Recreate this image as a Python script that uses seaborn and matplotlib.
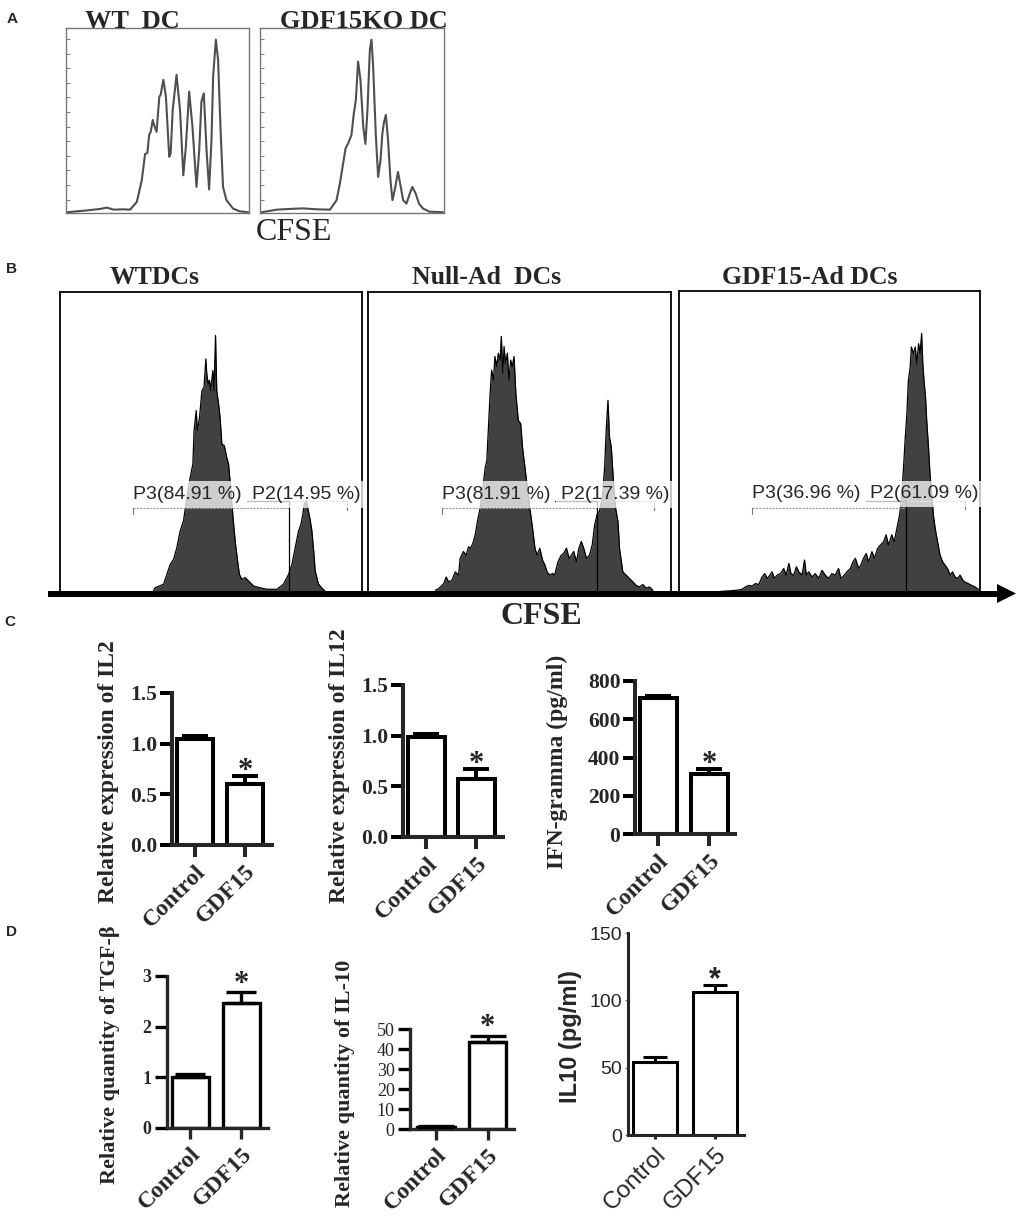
import matplotlib
matplotlib.use("Agg")
import matplotlib.pyplot as plt
import numpy as np
import pandas as pd
import seaborn as sns

W, H = 1020, 1217
SERIF = "Liberation Serif"
SANS = "Liberation Sans"

# ---------------- panel A: CFSE dilution (arbitrary units, 0-100 of frame)
wt_a_x = [0.5, 11.4, 18.7, 22.3, 26.0, 31.4, 35.0, 38.7, 41.4, 43.2, 44.5, 45.4, 46.3, 47.4, 48.1,
          49.5, 51.0, 51.7, 53.2, 54.6, 56.4, 57.2, 58.3, 60.4, 62.3, 64.1, 65.5, 67.3, 69.1, 71.3,
          72.8, 74.0, 75.3, 76.8, 78.2, 79.5, 80.4, 81.9, 83.1, 84.4, 85.8, 87.7, 91.3, 94.9, 99.5]
wt_a_y = [0.4, 1.4, 2.2, 2.9, 1.8, 2.0, 1.8, 6.0, 17.7, 31.8, 32.5, 42.1, 43.9, 50.3, 47.6,
          43.9, 62.9, 63.8, 72.0, 62.9, 30.4, 32.2, 55.7, 74.7, 55.7, 20.4, 35.8, 65.6, 46.7, 14.1,
          34.0, 60.2, 64.7, 34.0, 12.7, 39.4, 73.8, 93.7, 82.8, 46.7, 14.1, 6.9, 2.4, 0.9, 0.4]
ko_a_x = [0.9, 9.0, 16.3, 23.5, 30.7, 38.0, 41.6, 43.4, 45.2, 46.5, 47.9, 49.7, 51.0, 52.1, 53.3,
          54.6, 56.1, 57.3, 58.4, 59.7, 60.6, 61.5, 62.9, 64.2, 65.5, 66.5, 67.3, 68.4, 69.6, 70.9,
          72.0, 73.2, 75.0, 76.5, 77.8, 79.6, 81.4, 82.8, 84.6, 86.4, 88.6, 92.2, 99.5]
ko_a_y = [0.4, 1.8, 2.2, 2.5, 2.0, 1.8, 6.9, 15.9, 26.8, 34.9, 37.6, 42.1, 53.9, 61.1, 81.9,
          72.0, 46.7, 37.3, 55.7, 88.2, 93.7, 79.2, 43.0, 19.5, 28.6, 43.0, 48.5, 53.0, 39.4, 17.7,
          6.9, 12.3, 22.2, 14.1, 6.9, 5.1, 10.5, 14.1, 10.5, 5.1, 2.4, 0.7, 0.4]
a_titles = ["WT  DC", "GDF15KO DC"]

# ---------------- panel B: gated CFSE histograms
wt_b_x = [30.9, 31.5, 34.3, 35.4, 36.5, 37.6, 38.7, 39.8, 40.9, 42.0, 43.1, 44.0, 44.4, 45.1, 45.5,
          46.2, 47.0, 47.7, 48.3, 48.6, 49.1, 49.5, 49.9, 50.6, 51.0, 51.5, 51.9, 52.5, 53.0, 53.6,
          54.4, 55.2, 55.8, 56.4, 57.2, 58.0, 58.8, 59.4, 60.2, 61.3, 62.4, 64.1, 66.3, 68.5, 71.8,
          74.0, 75.7, 76.8, 77.9, 79.0, 79.8, 80.4, 80.9, 81.5, 82.0, 82.7, 83.4, 84.0, 84.5, 85.6,
          87.1, 87.8]
wt_b_y = [0.3, 1.4, 2.6, 5.9, 9.2, 10.9, 14.8, 20.4, 23.7, 31.5, 38.2, 42.7, 53.8, 60.5, 53.8,
          58.2, 67.1, 68.3, 77.7, 72.7, 69.4, 70.5, 67.1, 73.8, 67.1, 85.5, 67.1, 62.7, 58.2, 49.3,
          48.8, 44.9, 42.7, 36.0, 25.9, 17.0, 10.4, 5.9, 4.2, 4.8, 3.7, 2.0, 1.4, 0.9, 0.9,
          2.6, 5.9, 9.2, 14.8, 20.4, 22.6, 25.9, 29.3, 30.4, 28.2, 24.8, 20.4, 13.7, 7.0, 2.6,
          0.9, 0.3]
null_b_x = [22.2, 23.3, 25.0, 25.8, 26.6, 27.7, 28.8, 29.9, 30.4, 31.5, 32.4, 33.2, 33.9, 34.8, 35.4,
            36.1, 37.0, 37.9, 38.7, 39.2, 39.7, 40.3, 40.8, 41.4, 41.9, 42.5, 43.0, 43.6, 44.0, 44.5,
            44.9, 45.4, 46.0, 46.5, 47.1, 47.6, 48.2, 48.8, 49.6, 50.4, 51.0, 51.8, 52.6, 53.4, 54.3,
            55.1, 55.8, 56.7, 57.6, 58.4, 59.1, 60.0, 60.9, 61.6, 62.7, 63.8, 64.6, 65.5, 66.4, 67.1,
            67.9, 68.8, 69.6, 70.4, 71.2, 72.1, 73.1, 74.0, 74.8, 75.6, 76.4, 77.3, 78.1, 78.6, 79.2,
            79.7, 80.3, 81.0, 81.7, 82.5, 83.0, 84.1, 85.2, 86.3, 87.4, 88.5, 89.6, 90.7, 91.8, 92.9,
            94.0]
null_b_y = [0.6, 1.1, 2.8, 5.0, 3.4, 3.9, 6.7, 5.6, 11.2, 13.5, 12.3, 15.1, 14.6, 16.8, 19.1,
            23.5, 28.0, 34.8, 41.5, 43.7, 53.8, 66.1, 74.0, 70.6, 78.5, 75.1, 79.6, 77.3, 85.2, 72.9,
            81.8, 76.2, 79.6, 70.6, 77.3, 75.1, 78.5, 66.1, 57.2, 56.1, 48.2, 41.5, 34.8, 28.0, 21.3,
            14.6, 12.3, 14.6, 10.6, 9.0, 6.7, 5.6, 6.2, 5.6, 10.1, 12.3, 12.9, 14.6, 11.2, 12.3,
            13.5, 10.1, 14.6, 16.8, 14.6, 11.2, 12.3, 15.7, 22.4, 25.8, 26.9, 31.4, 41.5, 53.8, 63.9,
            51.6, 48.2, 37.0, 28.0, 23.5, 14.6, 6.7, 5.6, 4.5, 3.4, 2.2, 1.7, 2.5, 1.3, 1.7,
            0.6]
gdf_b_x = [13.8, 17.1, 19.3, 21.0, 22.1, 23.2, 24.3, 25.4, 26.5, 27.6, 28.5, 29.3, 30.2, 30.9, 31.7,
           32.6, 33.7, 34.8, 35.6, 36.5, 37.2, 38.1, 39.0, 39.8, 40.9, 41.7, 42.3, 43.1, 44.2, 45.3,
           46.4, 47.5, 48.6, 49.7, 50.8, 51.9, 53.0, 53.8, 54.9, 55.8, 56.9, 57.8, 58.6, 59.7, 60.4,
           61.3, 62.2, 63.0, 64.1, 64.9, 66.0, 66.9, 68.0, 68.8, 69.6, 70.7, 71.5, 72.4, 73.3, 74.0,
           74.6, 75.1, 75.7, 76.2, 76.8, 77.2, 77.9, 78.5, 79.0, 79.6, 80.1, 80.6, 81.0, 81.4, 81.9,
           82.3, 82.9, 83.4, 84.0, 84.5, 85.1, 85.9, 86.7, 87.6, 88.4, 89.2, 90.1, 90.9, 91.7, 92.5,
           93.4, 94.3, 95.0, 96.1, 97.2, 98.3, 99.5]
gdf_b_y = [0.2, 0.4, 0.6, 0.9, 1.7, 2.2, 2.0, 2.8, 2.5, 5.0, 6.1, 4.5, 5.6, 6.7, 4.5,
           5.6, 6.1, 7.8, 5.6, 9.5, 6.1, 5.6, 8.4, 6.7, 5.6, 10.6, 5.6, 6.7, 5.0, 6.1,
           4.5, 7.2, 5.6, 4.5, 6.1, 5.6, 7.8, 4.5, 5.6, 6.7, 7.8, 10.0, 11.2, 7.8, 8.9,
           11.2, 12.8, 10.0, 13.4, 11.2, 14.5, 15.6, 16.7, 19.0, 15.6, 19.0, 16.7, 21.2, 25.6, 32.3,
           41.3, 50.2, 59.1, 70.2, 74.7, 81.4, 79.2, 81.4, 75.8, 82.5, 79.2, 85.9, 75.8, 70.2, 64.7,
           56.9, 47.9, 39.0, 32.3, 25.6, 21.2, 16.7, 12.3, 10.0, 8.9, 7.8, 5.6, 6.7, 5.0, 4.5,
           5.6, 3.9, 3.3, 2.8, 2.2, 1.7, 0.9]
b_titles = ["WTDCs", "Null-Ad  DCs", "GDF15-Ad DCs"]
b_p3 = ["84.91", "81.91", "36.96"]
b_p2 = ["14.95", "17.39", "61.09"]
gate_left = [24.3, 24.4, 24.3]
gate_split = [75.7, 75.6, 75.5]
gate_right = [95.0, 94.5, 95.0]

# ---------------- panels C and D: bar charts (mean, SEM)
groups = ["Control", "GDF15"]
il2_mean, il2_sem = [1.05, 0.60], [0.03, 0.08]
il12_mean, il12_sem = [0.99, 0.57], [0.03, 0.10]
ifng_mean, ifng_sem = [711, 314], [11, 26]
tgfb_mean, tgfb_sem = [1.01, 2.46], [0.06, 0.23]
il10q_mean, il10q_sem = [1.2, 43.7], [0.3, 2.8]
il10_mean, il10_sem = [54.4, 106.4], [3.7, 5.0]

sns.set_style("white")
plt.rcParams["font.family"] = [SERIF, "DejaVu Serif"]

fig = plt.figure(figsize=(W / 100, H / 100), dpi=100)


def px_axes(x, y, w, h):
    return fig.add_axes([x / W, 1 - (y + h) / H, w / W, h / H])


# ---- panel A
for (x0, w0), xs, ys in zip([(66, 183), (260, 184)], [wt_a_x, ko_a_x], [wt_a_y, ko_a_y]):
    ax = px_axes(x0, 28, w0, 185)
    sns.lineplot(x=xs, y=ys, ax=ax, color="#4f4f4f", lw=1.5, estimator=None)
    ax.lines[-1].set_solid_joinstyle("round")
    ax.set_xlim(0, 100)
    ax.set_ylim(0, 100)
    ax.set_xticks([])
    ax.set_yticks(np.linspace(7.2, 94, 12))
    ax.set_yticklabels([])
    ax.tick_params(axis="y", direction="in", length=3, width=0.6, color="#666666", left=True)
    for s in ax.spines.values():
        s.set_color("#777777")
        s.set_linewidth(1.0)

# ---- panel B
b_rects = [(60, 292, 302, 300), (368, 292, 303, 300), (679, 291, 301, 301)]
b_curves = [(wt_b_x, wt_b_y), (null_b_x, null_b_y), (gdf_b_x, gdf_b_y)]
for i, (rect, (xs, ys)) in enumerate(zip(b_rects, b_curves)):
    ax = px_axes(*rect)
    ax.fill_between(xs, ys, 0, color="#414141", lw=0)
    sns.lineplot(x=xs, y=ys, ax=ax, color="black", lw=0.9, estimator=None)
    ax.set_xlim(0, 100)
    ax.set_ylim(0, 100)
    ax.set_xticks([])
    ax.set_yticks([])
    for s in ax.spines.values():
        s.set_color("black")
        s.set_linewidth(1.3)
    gl, gs, gr = gate_left[i], gate_split[i], gate_right[i]
    ax.plot([gl, gs], [28.0, 28.0], color="#9a9a9a", lw=0.8, ls=(0, (2, 1)))
    ax.plot([gl, gl], [26.0, 28.0], color="#777777", lw=0.8)
    ax.plot([gs - 13.8, gs], [30.3, 30.3], color="black", lw=1.0)
    ax.plot([gs, gr], [30.3, 30.3], color="#9a9a9a", lw=0.8, ls=(0, (2, 1)))
    ax.plot([gr, gr], [27.5, 30.3], color="#777777", lw=0.8)
    ax.plot([gs, gs], [0, 30.3], color="black", lw=0.9)
    box = dict(facecolor="white", alpha=0.75, edgecolor="none", boxstyle="square,pad=0.25")
    ax.text(gl, 32.6, f"P3({b_p3[i]} %)", family=SANS, fontsize=14, ha="left", va="center",
            bbox=box)
    ax.text(gl + 39.2, 32.6, f"P2({b_p2[i]} %)", family=SANS, fontsize=14, ha="left", va="center",
            bbox=box)


# ---- panels C and D
def bar_panel(rect, mean, sem, ylim, yticks, fmt, ylabel, xlim, lab_xy, st):
    ax = px_axes(*rect)
    df = pd.DataFrame({"group": groups, "value": mean})
    sns.barplot(data=df, x="group", y="value", ax=ax, color="white", edgecolor="black",
                linewidth=st["lw"], width=0.73, errorbar=None, saturation=1)
    ax.errorbar([0, 1], mean, yerr=[[0, 0], sem], fmt="none", ecolor="black",
                elinewidth=st["lw"], capsize=st["cap"], capthick=st["lw"], zorder=3)
    ax.set_xlim(*xlim)
    ax.set_ylim(*ylim)
    sns.despine(ax=ax)
    for s in ("left", "bottom"):
        ax.spines[s].set_linewidth(st["lw"])
    ax.set_xlabel("")
    ax.set_yticks(yticks)
    ax.set_yticklabels([fmt.format(v) for v in yticks], family=st["fam"],
                       fontsize=st["tfs"], fontweight=st["tw"])
    ax.set_xticks([0, 1])
    ax.set_xticklabels(groups, rotation=45, ha="right", rotation_mode="anchor",
                       family=st["fam"], fontsize=st["xfs"], fontweight=st["xw"])
    ax.tick_params(axis="y", direction="out", length=st["ytl"], width=st["ytw"],
                   color=st["ytc"], pad=2, left=True)
    ax.tick_params(axis="x", direction="out", length=st["xtl"], width=st["lw"], pad=3,
                   bottom=True)
    ax.set_ylabel(ylabel, family=st["fam"], fontsize=st["lfs"], fontweight="bold", va="center")
    ax.yaxis.set_label_coords(*lab_xy)
    ax.annotate("*", xy=(1, mean[1] + sem[1]), xytext=(0, st["sdy"]), textcoords="offset points",
                ha="center", va="baseline", family=st["fam"], fontsize=22, fontweight="bold")
    return ax


c_style = dict(fam=SERIF, lw=2.9, cap=9.7, tfs=15.5, tw="bold", xfs=17, xw="bold", lfs=17,
               ytl=8.5, ytw=2.9, ytc="black", xtl=8.5, sdy=-2)
d_style = dict(fam=SERIF, lw=2.4, cap=10.5, tfs=13, tw="bold", xfs=17, xw="bold", lfs=16,
               ytl=9, ytw=2.4, ytc="black", xtl=8, sdy=0)
d2_style = dict(d_style, tw="normal", cap=13, sdy=1)
s_style = dict(fam=SANS, lw=2.2, cap=8.3, tfs=14, tw="normal", xfs=17.5, xw="normal", lfs=17,
               ytl=2, ytw=1, ytc="#777777", xtl=3, sdy=-2)

bar_panel((172, 693, 100, 152), il2_mean, il2_sem, (0, 1.5), [0, 0.5, 1.0, 1.5], "{:.1f}",
          "Relative expression of IL2", (-0.46, 1.54), (-0.64, 0.48), c_style)
bar_panel((403, 685, 100, 152), il12_mean, il12_sem, (0, 1.5), [0, 0.5, 1.0, 1.5], "{:.1f}",
          "Relative expression of IL12", (-0.47, 1.53), (-0.63, 0.47), c_style)
bar_panel((635, 681, 100, 153), ifng_mean, ifng_sem, (0, 800), [0, 200, 400, 600, 800], "{:g}",
          "IFN-gramma (pg/ml)", (-0.46, 1.50), (-0.78, 0.47), c_style)
bar_panel((167, 976, 101, 152), tgfb_mean, tgfb_sem, (0, 3), [0, 1, 2, 3], "{:g}",
          "Relative quantity of TGF-β", (-0.46, 1.52), (-0.56, 0.48), d_style)
bar_panel((410, 1029, 104, 100), il10q_mean, il10q_sem, (0, 50), [0, 10, 20, 30, 40, 50], "{:g}",
          "Relative quantity of IL-10", (-0.50, 1.51), (-0.625, 0.46), d2_style)
bar_panel((628, 933, 116, 202), il10_mean, il10_sem, (0, 150), [0, 50, 100, 150], "{:g}",
          "IL10 (pg/ml)", (-0.45, 1.48), (-0.50, 0.485), s_style)

# ---- overlay: panel letters, titles, CFSE axis arrow
ov = fig.add_axes([0, 0, 1, 1])
ov.set_xlim(0, W)
ov.set_ylim(H, 0)
ov.axis("off")
for letter, (lx, ly) in zip("ABCD", [(12, 19), (12, 269), (10, 622), (12, 932)]):
    ov.text(lx, ly, letter, family=SANS, fontsize=11, fontweight="bold", ha="center", va="center")
for t, cx in zip(a_titles, [132, 364]):
    ov.text(cx, 21, t, fontsize=19, fontweight="bold", ha="center", va="center")
ov.text(294, 233, "CFSE", fontsize=23, ha="center", va="center")
for t, cx in zip(b_titles, [155, 487, 810]):
    ov.text(cx, 277, t, fontsize=18.5, fontweight="bold", ha="center", va="center")
ov.plot([48, 999], [593.5, 593.5], color="black", lw=4.3, solid_capstyle="butt")
ov.fill([997, 1016, 997], [584, 593.5, 603], color="black", lw=0)
ov.text(541, 617, "CFSE", fontsize=23, fontweight="bold", ha="center", va="center")

fig.savefig("out.png", dpi=100)
